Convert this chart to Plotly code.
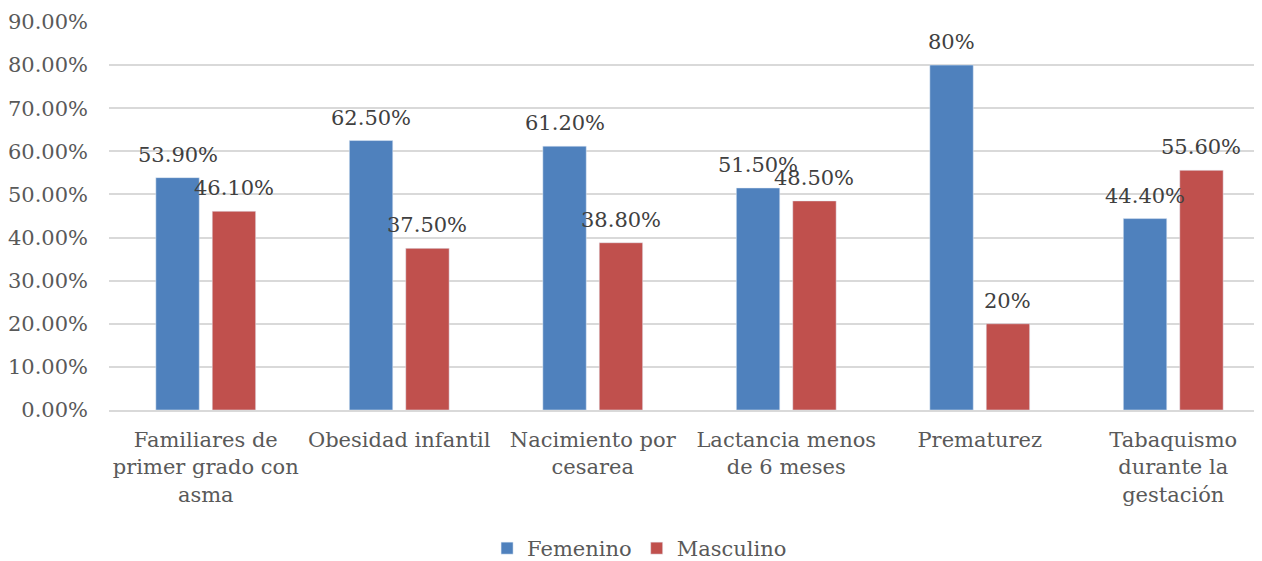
import plotly.graph_objects as go

categories = ["Familiares de<br>primer grado con<br>asma", "Obesidad infantil", "Nacimiento por<br>cesarea",
              "Lactancia menos<br>de 6 meses", "Prematurez", "Tabaquismo<br>durante la<br>gestación"]
femenino = [0.539, 0.625, 0.612, 0.515, 0.80, 0.444]
masculino = [0.461, 0.375, 0.388, 0.485, 0.20, 0.556]
fem_labels = ["53.90%", "62.50%", "61.20%", "51.50%", "80%", "44.40%"]
mas_labels = ["46.10%", "37.50%", "38.80%", "48.50%", "20%", "55.60%"]
tick_vals = [0, 0.1, 0.2, 0.3, 0.4, 0.5, 0.6, 0.7, 0.8, 0.9]
tick_text = ["0.00%", "10.00%", "20.00%", "30.00%", "40.00%", "50.00%", "60.00%", "70.00%", "80.00%", "90.00%"]

FONT = "DejaVu Serif"
GRAY = "#595959"
BLUE = "#4F81BD"
RED = "#C0504D"
FS = 21

fig = go.Figure()
fig.add_trace(go.Bar(name="Femenino", x=categories, y=femenino, marker_color=BLUE))
fig.add_trace(go.Bar(name="Masculino", x=categories, y=masculino, marker_color=RED))

annotations = []
for c, v, t in zip(categories, femenino, fem_labels):
    annotations.append(dict(x=c, y=v, text=t, showarrow=False, xshift=-28, yshift=23,
                            yanchor="middle", font=dict(family=FONT, size=FS, color="#404040")))
for c, v, t in zip(categories, masculino, mas_labels):
    annotations.append(dict(x=c, y=v, text=t, showarrow=False, xshift=28, yshift=23,
                            yanchor="middle", font=dict(family=FONT, size=FS, color="#404040")))

fig.update_layout(
    width=1262, height=561,
    margin=dict(l=101, r=0, t=14, b=149),
    paper_bgcolor="white", plot_bgcolor="white",
    barmode="group", bargap=0.417, bargroupgap=0.23,
    font=dict(family=FONT, size=FS, color=GRAY),
    annotations=annotations,
    legend=dict(orientation="h", x=0.457, xanchor="center", y=-0.358, yanchor="middle",
                font=dict(family=FONT, size=FS, color=GRAY), itemwidth=30,
                traceorder="normal"),
    xaxis=dict(showline=True, linecolor="#D9D9D9", linewidth=1.5, ticks="", automargin=False,
               ticklabelstandoff=10, tickfont=dict(family=FONT, size=FS, color=GRAY)),
    yaxis=dict(range=[0, 0.9], tickvals=tick_vals, ticktext=tick_text, showgrid=True,
               gridcolor="#D9D9D9", gridwidth=1.5, zeroline=False, ticks="", automargin=False,
               ticklabelstandoff=20, tickfont=dict(family=FONT, size=FS, color=GRAY)),
)

fig.write_html("out.html")
